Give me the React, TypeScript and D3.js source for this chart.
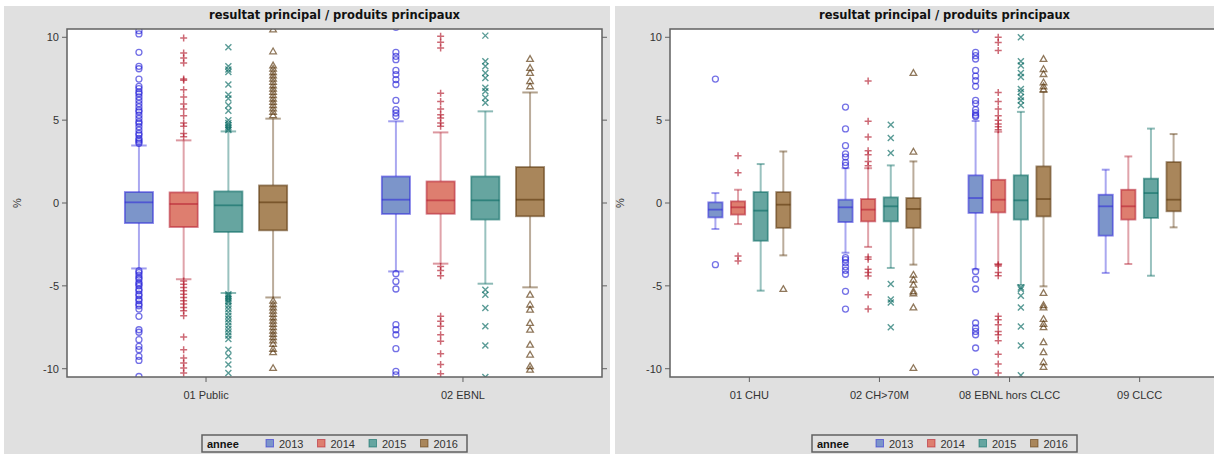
import React from "react";
import * as d3 from "d3";

const years = ["2013", "2014", "2015", "2016"];
const yTicks = [-10, -5, 0, 5, 10];
const titleText = "resultat principal / produits principaux";
const legendTitle = "annee";

const leftCategories = ["01 Public", "02 EBNL"];
const rightCategories = ["01 CHU", "02 CH>70M", "08 EBNL hors CLCC", "09 CLCC"];

// [lower whisker, q1, median, q3, upper whisker] per year
const publicStats = [
  [-3.95, -1.21, 0.04, 0.66, 3.47],
  [-4.6, -1.45, -0.06, 0.64, 3.78],
  [-5.43, -1.75, -0.14, 0.7, 4.32],
  [-5.7, -1.65, 0.04, 1.06, 5.09],
];
const publicOutliers = [
  [10.4, 10.2, 9.09, 8.25, 8.1, 7.48, 7.04, 6.9, 6.7, 6.6, 6.4, 6.2, 6.0, 5.8, 5.6, 5.5, 5.3, 5.1, 4.9, 4.8, 4.6, 4.4, 4.2, 4.1, 3.9, 3.8, 3.7, 3.6,
    -4.1, -4.2, -4.35, -4.5, -4.6, -4.8, -4.9, -5.0, -5.2, -5.3, -5.5, -5.6, -5.8, -5.9, -6.1, -6.2, -6.4, -6.84, -7.65, -7.8, -8.25, -8.65, -8.85, -9.25, -9.5, -10.47],
  [9.95, 9.05, 8.75, 8.45, 7.48, 7.4, 6.84, 6.4, 5.97, 5.67, 5.27, 4.83, 4.63, 4.2, 4.0,
    -4.7, -4.9, -5.1, -5.3, -5.5, -5.7, -5.9, -6.1, -6.3, -6.5, -6.8, -8.09, -8.85, -9.35, -9.65, -9.95, -10.26],
  [9.4, 8.25, 8.05, 7.9, 7.15, 6.53, 6.3, 5.9, 5.57, 5.0, 4.83, 4.7, 4.6, 4.5, 4.4,
    -5.5, -5.6, -5.7, -5.8, -5.9, -6.0, -6.2, -6.4, -6.6, -6.8, -7.0, -7.2, -7.4, -7.6, -7.8, -8.0, -8.2, -8.85, -9.25, -9.75, -10.26],
  [10.47, 9.15, 8.3, 8.1, 7.9, 7.7, 7.5, 7.3, 7.1, 6.9, 6.7, 6.5, 6.3, 6.1, 5.9, 5.7, 5.5, 5.3,
    -5.9, -6.1, -6.3, -6.5, -6.7, -6.9, -7.1, -7.3, -7.5, -7.7, -7.9, -8.1, -8.3, -8.5, -8.8, -9.0, -9.96],
];

const ebnlStats = [
  [-4.13, -0.66, 0.2, 1.6, 4.93],
  [-3.66, -0.65, 0.16, 1.3, 4.26],
  [-4.87, -1.0, 0.16, 1.6, 5.53],
  [-5.09, -0.8, 0.2, 2.17, 6.67],
];
const ebnlOutliers = [
  [10.6, 9.09, 8.85, 8.65, 8.0, 7.75, 7.45, 7.15, 6.19, 5.63, 5.43, 5.23, -4.27, -4.73, -5.19, -7.34, -7.65, -7.95, -8.79, -10.16, -10.37],
  [10.06, 9.7, 9.35, 6.63, 6.13, 5.67, 5.33, 5.13, 4.83, 4.63, -3.83, -4.07, -4.39, -6.84, -7.14, -7.44, -7.95, -8.35, -9.1, -9.75, -10.3],
  [10.1, 8.55, 8.25, 7.85, 7.55, 6.95, 6.75, 6.35, 6.05, -5.23, -5.53, -6.34, -7.44, -8.6, -10.5],
  [8.69, 8.15, 7.85, 7.35, 7.04, -5.53, -6.13, -6.44, -7.24, -7.65, -8.55, -9.15, -9.85, -10.06],
];

const chuStats = [
  [-1.57, -0.87, -0.4, 0.04, 0.6],
  [-1.27, -0.7, -0.26, 0.1, 0.8],
  [-5.29, -2.28, -0.46, 0.66, 2.35],
  [-3.16, -1.5, -0.1, 0.66, 3.11],
];
const chuOutliers = [[7.48, -3.72], [2.85, 1.83, -3.2, -3.5], [], [-5.19]];

const ch70Stats = [
  [-3.0, -1.15, -0.26, 0.2, 2.1],
  [-2.65, -1.11, -0.4, 0.24, 2.1],
  [-3.92, -1.11, -0.2, 0.34, 2.27],
  [-3.72, -1.5, -0.36, 0.3, 2.51],
];
const ch70Outliers = [
  [5.79, 4.47, 3.46, 2.97, 2.77, 2.45, 2.27, -3.3, -3.42, -3.6, -3.85, -4.06, -4.3, -5.33, -6.4],
  [7.36, 4.93, 3.98, 3.16, 2.91, 2.51, 2.25, -3.26, -3.4, -4.0, -4.2, -4.4, -5.53, -6.4],
  [4.72, 3.92, 3.02, -4.89, -5.83, -6.0, -7.5],
  [7.85, 3.1, -4.33, -4.63, -4.93, -5.33, -5.45, -6.3, -9.96],
];

const ebnlHcStats = [
  [-4.0, -0.6, 0.3, 1.67, 4.95],
  [-3.68, -0.57, 0.2, 1.4, 4.3],
  [-4.95, -1.0, 0.16, 1.67, 5.5],
  [-5.03, -0.81, 0.24, 2.21, 6.7],
];
const ebnlHcOutliers = [
  [10.47, 9.09, 8.89, 8.69, 8.0, 7.66, 7.38, 7.04, 6.19, 6.0, 5.63, 5.45, 5.3, 5.22, -4.13, -4.6, -5.19, -7.24, -7.54, -7.75, -7.95, -8.75, -10.2],
  [10.0, 9.69, 9.2, 6.67, 6.13, 5.67, 5.27, 5.0, 4.77, 4.6, 4.42, -3.72, -3.8, -4.19, -4.39, -6.84, -7.04, -7.34, -7.75, -7.95, -8.31, -9.12, -9.72, -10.26],
  [10.0, 8.55, 8.3, 7.85, 7.6, 6.88, 6.7, 6.4, 6.19, 5.9, -5.1, -5.2, -5.6, -6.3, -7.45, -8.6, -10.4],
  [8.69, 8.08, 7.78, 7.28, 7.04, 6.85, -5.43, -6.16, -6.3, -7.0, -7.3, -7.5, -8.4, -9.0, -9.6, -9.9],
];

const clccStats = [
  [-4.22, -1.97, -0.2, 0.5, 2.01],
  [-3.68, -1.0, -0.2, 0.8, 2.81],
  [-4.39, -0.9, 0.6, 1.47, 4.49],
  [-1.47, -0.5, 0.2, 2.47, 4.16],
];
const clccOutliers = [[], [], [], []];

const fillColors = ["#7C95CA", "#DE7E6F", "#66A5A0", "#A9865B"];
const contrastColors = ["#2A25D9", "#B2182B", "#01665E", "#543005"];

const BG = "#e0e0e0";
const AXIS = "#606060";
const TEXT = "#333333";
const FONT = "'Liberation Sans', Arial, sans-serif";

type PanelProps = {
  id: string;
  px0: number;
  px1: number;
  plotL: number;
  plotR: number;
  padding: number;
  categories: string[];
  stats: number[][][];
  outliers: number[][][];
};

function Marker({ kind, x, y, color }: { kind: number; x: number; y: number; color: string }) {
  const common = { fill: "none", stroke: color, strokeOpacity: 0.65, strokeWidth: 1.3 };
  if (kind === 0) return <circle cx={x} cy={y} r={3} {...common} />;
  if (kind === 1)
    return <path d={`M${x - 3.5},${y}H${x + 3.5}M${x},${y - 3.5}V${y + 3.5}`} {...common} strokeWidth={1.5} />;
  if (kind === 2)
    return <path d={`M${x - 3},${y - 3}L${x + 3},${y + 3}M${x - 3},${y + 3}L${x + 3},${y - 3}`} {...common} strokeWidth={1.4} />;
  const tri = d3.symbol(d3.symbolTriangle, 19)() as string;
  return <path d={tri} transform={`translate(${x},${y + 0.5})`} {...common} />;
}

function Panel({ id, px0, px1, plotL, plotR, padding, categories, stats, outliers }: PanelProps) {
  const plotT = 29;
  const plotB = 377;
  const y = d3.scaleLinear().domain([-10.5, 10.5]).range([plotB, plotT]);
  const x = d3.scalePoint<string>().domain(categories).range([plotL, plotR]).padding(padding);
  const step = x.step();
  const sub = d3.scaleBand<string>().domain(years).range([-0.348 * step, 0.348 * step]);
  const bw = sub.bandwidth();
  const boxW = bw * 0.63;
  const capW = boxW * 0.55;
  const cx = (plotL + Math.min(plotR, 1219)) / 2;
  const legendW = 265;
  const lx = cx - legendW / 2;
  const clipId = `clip-${id}`;

  return (
    <g>
      <rect x={px0} y={6} width={px1 - px0} height={454 - 6} fill={BG} />
      <text x={cx} y={19} textAnchor="middle" fontFamily="'DejaVu Sans', sans-serif" fontWeight="bold" fontSize={11.5} fill="#111">
        {titleText}
      </text>
      <defs>
        <clipPath id={clipId}>
          <rect x={plotL} y={plotT} width={plotR - plotL} height={plotB - plotT} />
        </clipPath>
      </defs>
      <rect x={plotL} y={plotT} width={plotR - plotL} height={plotB - plotT} fill="#ffffff" />
      <g clipPath={`url(#${clipId})`}>
        {categories.map((cat, ci) =>
          years.map((yr, yi) => {
            const [lo, q1, med, q3, hi] = stats[ci][yi];
            const bx = (x(cat) as number) + (sub(yr) as number) + bw / 2;
            const col = contrastColors[yi];
            return (
              <g key={`${cat}-${yr}`}>
                <line x1={bx} x2={bx} y1={y(hi)} y2={y(q3)} stroke={col} strokeOpacity={0.4} strokeWidth={2} />
                <line x1={bx} x2={bx} y1={y(q1)} y2={y(lo)} stroke={col} strokeOpacity={0.4} strokeWidth={2} />
                <line x1={bx - capW / 2} x2={bx + capW / 2} y1={y(hi)} y2={y(hi)} stroke={col} strokeOpacity={0.45} strokeWidth={2} />
                <line x1={bx - capW / 2} x2={bx + capW / 2} y1={y(lo)} y2={y(lo)} stroke={col} strokeOpacity={0.45} strokeWidth={2} />
                <rect
                  x={bx - boxW / 2}
                  y={y(q3)}
                  width={boxW}
                  height={y(q1) - y(q3)}
                  fill={fillColors[yi]}
                  stroke={col}
                  strokeOpacity={0.55}
                  strokeWidth={1.8}
                />
                <line x1={bx - boxW / 2} x2={bx + boxW / 2} y1={y(med)} y2={y(med)} stroke={col} strokeOpacity={0.55} strokeWidth={1.8} />
                {outliers[ci][yi].map((v, k) => (
                  <Marker key={k} kind={yi} x={bx} y={y(v)} color={col} />
                ))}
              </g>
            );
          })
        )}
      </g>
      <rect x={plotL} y={plotT} width={plotR - plotL} height={plotB - plotT} fill="none" stroke={AXIS} strokeWidth={1.5} />
      {yTicks.map((t) => (
        <g key={t}>
          <line x1={plotL - 5} x2={plotL} y1={y(t)} y2={y(t)} stroke={AXIS} strokeWidth={1} />
          <line x1={plotR} x2={plotR + 5} y1={y(t)} y2={y(t)} stroke={AXIS} strokeWidth={1} />
          <text x={plotL - 8} y={y(t)} dy="0.35em" textAnchor="end" fontFamily={FONT} fontSize={11} fill={TEXT}>
            {t}
          </text>
        </g>
      ))}
      <text
        transform={`translate(${plotL - 46},${y(0)}) rotate(-90)`}
        textAnchor="middle"
        fontFamily={FONT}
        fontSize={11}
        fill={TEXT}
      >
        %
      </text>
      {categories.map((cat) => (
        <g key={cat}>
          <line x1={x(cat)} x2={x(cat)} y1={plotB} y2={plotB + 5} stroke={AXIS} strokeWidth={1} />
          <text x={x(cat)} y={399} textAnchor="middle" fontFamily={FONT} fontSize={11} fill={TEXT}>
            {cat}
          </text>
        </g>
      ))}
      <g>
        <rect x={lx} y={435} width={legendW} height={17} fill="none" stroke={AXIS} strokeWidth={1.5} />
        <text x={lx + 5} y={447.5} fontFamily={FONT} fontWeight="bold" fontSize={11} fill="#111">
          {legendTitle}
        </text>
        {years.map((yr, i) => (
          <g key={yr}>
            <rect
              x={lx + 64 + i * 51.5}
              y={439.5}
              width={7.5}
              height={7.5}
              fill={fillColors[i]}
              stroke={contrastColors[i]}
              strokeOpacity={0.55}
              strokeWidth={1}
            />
            <text x={lx + 77 + i * 51.5} y={447.5} fontFamily={FONT} fontSize={11} fill={TEXT}>
              {yr}
            </text>
          </g>
        ))}
      </g>
    </g>
  );
}

export default function App() {
  return (
    <svg
      width={1214}
      height={454}
      style={{ position: "absolute", left: 0, top: 0, background: "#ffffff" }}
    >
      <Panel
        id="left"
        px0={4}
        px1={610}
        plotL={67}
        plotR={602}
        padding={0.541}
        categories={leftCategories}
        stats={[publicStats, ebnlStats]}
        outliers={[publicOutliers, ebnlOutliers]}
      />
      <Panel
        id="right"
        px0={615}
        px1={1214}
        plotL={670}
        plotR={1219}
        padding={0.61}
        categories={rightCategories}
        stats={[chuStats, ch70Stats, ebnlHcStats, clccStats]}
        outliers={[chuOutliers, ch70Outliers, ebnlHcOutliers, clccOutliers]}
      />
    </svg>
  );
}
